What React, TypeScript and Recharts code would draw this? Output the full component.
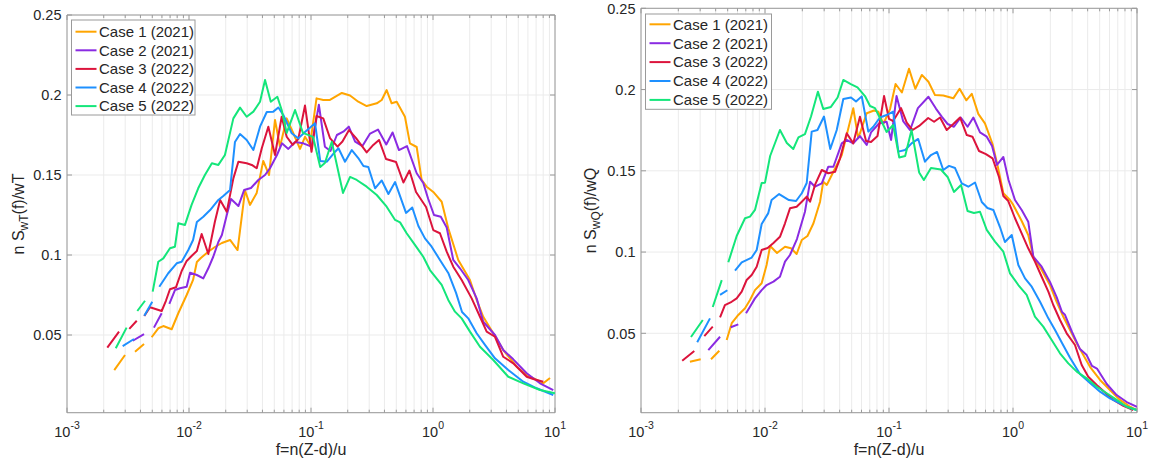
import React from "react";
import { LineChart, Line, XAxis, YAxis, CartesianGrid, ReferenceArea } from "recharts";

const FONT = "'Liberation Sans', Arial, Helvetica, sans-serif";
const INK = "#262626";
const AXIS = "#9a9a9a";
const GRID = "#ebebeb";

const caseNames = ["Case 1 (2021)", "Case 2 (2021)", "Case 3 (2022)", "Case 4 (2022)", "Case 5 (2022)"];
const caseColors = ["#ffa500", "#8a2be2", "#dc143c", "#1e90ff", "#14e67a"];

const xTicks = [
  0.001, 0.002, 0.003, 0.004, 0.005, 0.006, 0.007, 0.008, 0.009,
  0.01, 0.02, 0.03, 0.04, 0.05, 0.06, 0.07, 0.08, 0.09,
  0.1, 0.2, 0.3, 0.4, 0.5, 0.6, 0.7, 0.8, 0.9,
  1, 2, 3, 4, 5, 6, 7, 8, 9, 10,
];
const xMajor = [0.001, 0.01, 0.1, 1, 10];
const xMajorExp = ["-3", "-2", "-1", "0", "1"];
const yTicks = [0.05, 0.1, 0.15, 0.2, 0.25];

type Pt = [number, number | null];

// nS_wT(f)/wT  (left panel)
const case1T: Pt[] = [
  [0.00244, 0.0281], [0.00299, 0.0375], [0.0033, null], [0.00361, 0.0396], [0.00428, 0.0444], [0.0046, null],
  [0.00494, 0.0486], [0.0056, 0.0542], [0.00616, 0.0556], [0.00721, 0.0536], [0.00817, 0.0636], [0.00957, 0.075],
  [0.0108, 0.0844], [0.0116, 0.0956], [0.0125, 0.0981], [0.0143, 0.1019], [0.0163, 0.105], [0.0186, 0.1075],
  [0.0217, 0.1094], [0.025, 0.1031], [0.0288, 0.1403], [0.0316, 0.1313], [0.0359, 0.1388], [0.0406, 0.1588],
  [0.0453, 0.15], [0.0507, 0.1844], [0.0557, 0.1677], [0.0632, 0.1854], [0.0716, 0.1761], [0.0813, 0.1663],
  [0.0893, 0.1739], [0.0982, 0.1688], [0.111, 0.1979], [0.126, 0.1969], [0.143, 0.1969], [0.179, 0.2013],
  [0.209, 0.1997], [0.244, 0.1958], [0.286, 0.1931], [0.346, 0.1948], [0.38, 0.1969], [0.417, 0.2031],
  [0.458, 0.1948], [0.504, 0.1958], [0.589, 0.1864], [0.647, 0.1698], [0.735, 0.1675], [0.807, 0.1469],
  [0.887, 0.1427], [1.005, 0.1394], [1.178, 0.1333], [1.334, 0.1167], [1.611, 0.0969], [2.009, 0.0844],
  [2.28, 0.0719], [2.582, 0.0614], [3.119, 0.0511], [3.767, 0.0406], [4.853, 0.0302], [5.861, 0.025],
  [7.079, 0.0219], [8.017, 0.0198], [9.1, 0.0231],
];
const case2T: Pt[] = [
  [0.00346, 0.0464], [0.00428, 0.0506], [0.0047, null], [0.00516, 0.0546], [0.00597, 0.0636], [0.0064, null],
  [0.0069, 0.0694], [0.00767, 0.0781], [0.00843, 0.0792], [0.00957, 0.0802], [0.0102, 0.0889], [0.0116, 0.0875],
  [0.0131, 0.0854], [0.0144, 0.0917], [0.0158, 0.0989], [0.0174, 0.1081], [0.0186, 0.1125], [0.0204, 0.125],
  [0.0221, 0.135], [0.0254, 0.1306], [0.0283, 0.1406], [0.0322, 0.1419], [0.037, 0.1469], [0.042, 0.15],
  [0.0461, 0.1542], [0.0526, 0.1625], [0.0578, 0.1698], [0.0652, 0.1663], [0.074, 0.1706], [0.0865, 0.1698],
  [0.101, 0.1677], [0.116, 0.1939], [0.13, 0.1677], [0.1445, 0.165], [0.163, 0.175], [0.184, 0.1771],
  [0.204, 0.1802], [0.23, 0.1708], [0.264, 0.1681], [0.305, 0.1759], [0.354, 0.1784], [0.414, 0.1691],
  [0.466, 0.1766], [0.526, 0.1656], [0.612, 0.1681], [0.735, 0.1511], [0.832, 0.145], [0.914, 0.135],
  [1.019, 0.125], [1.159, 0.1239], [1.295, 0.1172], [1.466, 0.0969], [1.663, 0.0917], [1.945, 0.0844],
  [2.28, 0.0729], [2.582, 0.0583], [3.221, 0.05], [3.767, 0.0406], [4.55, 0.0348], [5.861, 0.0261],
  [7.534, 0.0198], [9.68, 0.0156],
];
const case3T: Pt[] = [
  [0.00214, 0.0421], [0.00267, 0.0521], [0.0029, null], [0.00324, 0.0538], [0.00373, 0.0589], [0.004, null],
  [0.0043, 0.0619], [0.00479, 0.0673], [0.00516, 0.0666], [0.00597, 0.065], [0.00647, 0.0714], [0.00698, 0.0786],
  [0.00782, 0.0798], [0.00871, 0.09], [0.00957, 0.0963], [0.0105, 0.0994], [0.0116, 0.1025], [0.0127, 0.1131],
  [0.0144, 0.1006], [0.0163, 0.1208], [0.018, 0.1344], [0.0204, 0.1271], [0.0231, 0.1479], [0.0254, 0.1583],
  [0.0297, 0.1573], [0.0327, 0.1563], [0.0359, 0.1542], [0.0395, 0.1667], [0.0447, 0.1802], [0.0507, 0.1625],
  [0.0575, 0.1864], [0.0632, 0.1739], [0.0708, 0.1688], [0.0787, 0.1725], [0.0893, 0.1934], [0.101, 0.1645],
  [0.111, 0.1869], [0.126, 0.1854], [0.143, 0.1731], [0.165, 0.1677], [0.181, 0.1709], [0.205, 0.1781],
  [0.234, 0.1731], [0.286, 0.1641], [0.324, 0.1688], [0.361, 0.1719], [0.412, 0.16], [0.498, 0.1581],
  [0.572, 0.1453], [0.641, 0.1528], [0.726, 0.1394], [0.877, 0.13], [1.005, 0.1156], [1.14, 0.1136],
  [1.295, 0.1021], [1.466, 0.0927], [1.718, 0.0844], [2.075, 0.0729], [2.427, 0.0614], [2.754, 0.0521],
  [3.221, 0.0489], [3.767, 0.0364], [4.55, 0.0323], [5.861, 0.0239], [6.637, 0.0225], [8.017, 0.0208],
];
const case4T: Pt[] = [
  [0.00286, 0.0431], [0.00354, 0.0475], [0.0039, null], [0.0043, 0.0621], [0.005, 0.0708], [0.0053, null],
  [0.00571, 0.0802], [0.00676, 0.0886], [0.00793, 0.0948], [0.00871, 0.0958], [0.00987, 0.1031], [0.0108, 0.1094],
  [0.0116, 0.1206], [0.0131, 0.1239], [0.0149, 0.1281], [0.0174, 0.1344], [0.0191, 0.1369], [0.0217, 0.1406],
  [0.0238, 0.1706], [0.0262, 0.1756], [0.0297, 0.1719], [0.0337, 0.1656], [0.0382, 0.1802], [0.0434, 0.1894],
  [0.0491, 0.1896], [0.054, 0.1922], [0.0593, 0.1875], [0.0695, 0.1761], [0.0787, 0.1729], [0.0893, 0.1769],
  [0.108, 0.1823], [0.119, 0.1588], [0.135, 0.1583], [0.157, 0.1644], [0.168, 0.1667], [0.19, 0.1583],
  [0.216, 0.1656], [0.244, 0.1606], [0.269, 0.1556], [0.295, 0.155], [0.335, 0.1417], [0.38, 0.1466],
  [0.431, 0.1381], [0.489, 0.1456], [0.601, 0.1263], [0.676, 0.1297], [0.759, 0.1181], [0.859, 0.1104],
  [0.975, 0.1052], [1.14, 0.0969], [1.334, 0.0888], [1.545, 0.0763], [1.73, 0.0644], [1.945, 0.0604],
  [2.28, 0.0511], [2.667, 0.0438], [3.221, 0.0354], [4.14, 0.0281], [5.495, 0.0208], [7.079, 0.0167],
  [9.68, 0.0125],
];
const case5T: Pt[] = [
  [0.00251, 0.0417], [0.00308, 0.0546], [0.0034, null], [0.00377, 0.065], [0.00436, 0.0714], [0.0047, null],
  [0.00504, 0.0771], [0.0056, 0.0958], [0.00616, 0.0979], [0.00698, 0.1042], [0.00767, 0.1052], [0.00817, 0.1198],
  [0.00927, 0.1188], [0.0105, 0.1313], [0.0119, 0.1417], [0.0135, 0.15], [0.0154, 0.1573], [0.0174, 0.1563],
  [0.0197, 0.1625], [0.0231, 0.1854], [0.0262, 0.1921], [0.0297, 0.1864], [0.0337, 0.1896], [0.0382, 0.1958],
  [0.042, 0.2094], [0.0468, 0.1958], [0.053, 0.1989], [0.0575, 0.1906], [0.0632, 0.1763], [0.074, 0.1906],
  [0.0859, 0.1763], [0.104, 0.1738], [0.119, 0.155], [0.13, 0.1575], [0.148, 0.1708], [0.183, 0.1388],
  [0.209, 0.1488], [0.237, 0.1469], [0.286, 0.1427], [0.346, 0.1375], [0.417, 0.1302], [0.489, 0.1219],
  [0.537, 0.1204], [0.608, 0.1136], [0.711, 0.1063], [0.832, 0.0989], [0.944, 0.0906], [1.178, 0.0813],
  [1.334, 0.0719], [1.514, 0.0646], [1.718, 0.0604], [2.009, 0.0521], [2.427, 0.0427], [3.119, 0.0344],
  [4.14, 0.0239], [5.495, 0.0198], [7.534, 0.0156], [10, 0.0136],
];

// nS_wQ(f)/wQ  (right panel)
const case1Q: Pt[] = [
  [0.00248, 0.0325], [0.00303, 0.034], [0.0034, null], [0.00367, 0.034], [0.00428, 0.0393], [0.0046, null],
  [0.00491, 0.0459], [0.00539, 0.0562], [0.00609, 0.0613], [0.0069, 0.0654], [0.00757, 0.0705], [0.0083, 0.0766],
  [0.0094, 0.0808], [0.0103, 0.092], [0.011, 0.1037], [0.0125, 0.0994], [0.0145, 0.1033], [0.0162, 0.1023],
  [0.018, 0.0988], [0.0198, 0.1074], [0.022, 0.1099], [0.0246, 0.1177], [0.0278, 0.131], [0.0295, 0.1433],
  [0.0315, 0.1413], [0.0356, 0.1494], [0.0416, 0.1597], [0.0456, 0.172], [0.0515, 0.1885], [0.0565, 0.17],
  [0.0661, 0.1854], [0.0757, 0.1871], [0.082, 0.1864], [0.09, 0.1788], [0.102, 0.188], [0.113, 0.2034],
  [0.127, 0.1982], [0.145, 0.2128], [0.163, 0.2005], [0.184, 0.209], [0.208, 0.2048], [0.235, 0.1966],
  [0.274, 0.1963], [0.33, 0.1946], [0.371, 0.2005], [0.42, 0.1934], [0.465, 0.1974], [0.525, 0.185],
  [0.594, 0.1792], [0.684, 0.1665], [0.757, 0.152], [0.836, 0.1362], [0.946, 0.132], [1.005, 0.129],
  [1.175, 0.1191], [1.327, 0.1105], [1.459, 0.0971], [1.703, 0.089], [1.986, 0.0797], [2.249, 0.0694],
  [2.547, 0.0602], [2.884, 0.052], [3.266, 0.0438], [3.69, 0.0366], [4.178, 0.0294], [5.035, 0.0213],
  [6.053, 0.0151], [7.295, 0.009], [8.79, 0.0048], [10, 0.0028],
];
const case2Q: Pt[] = [
  [0.00349, 0.0397], [0.00434, 0.0479], [0.0048, null], [0.00529, 0.0537], [0.00609, 0.0555], [0.0065, null],
  [0.00703, 0.0623], [0.00757, 0.0664], [0.0083, 0.0715], [0.0094, 0.0766], [0.0103, 0.0797], [0.0117, 0.0818],
  [0.0132, 0.0848], [0.0145, 0.0941], [0.0159, 0.0982], [0.0181, 0.108], [0.021, 0.1248], [0.0231, 0.1433],
  [0.0253, 0.1402], [0.0287, 0.1423], [0.0324, 0.1525], [0.0356, 0.1525], [0.0416, 0.1669], [0.0456, 0.169],
  [0.0515, 0.1669], [0.0583, 0.1714], [0.0661, 0.1659], [0.0716, 0.1736], [0.083, 0.1791], [0.0957, 0.1802],
  [0.104, 0.169], [0.115, 0.196], [0.13, 0.1806], [0.148, 0.1751], [0.171, 0.1886], [0.208, 0.1956],
  [0.239, 0.1883], [0.266, 0.1833], [0.297, 0.1788], [0.334, 0.1771], [0.379, 0.1828], [0.43, 0.1771],
  [0.479, 0.1828], [0.542, 0.1736], [0.614, 0.171], [0.678, 0.1653], [0.743, 0.1536], [0.836, 0.1585],
  [0.92, 0.1443], [1.038, 0.132], [1.175, 0.1259], [1.327, 0.1187], [1.459, 0.0971], [1.703, 0.091],
  [1.986, 0.0816], [2.249, 0.0723], [2.485, 0.0631], [2.625, 0.0614], [2.992, 0.0508], [3.468, 0.0403],
  [3.927, 0.0366], [4.335, 0.0299], [4.753, 0.0283], [5.702, 0.0188], [6.855, 0.012], [8.26, 0.0077],
  [10, 0.0048],
];
const case3Q: Pt[] = [
  [0.00215, 0.0331], [0.00269, 0.0391], [0.0029, null], [0.00324, 0.0483], [0.00379, 0.0541], [0.004, null],
  [0.00434, 0.0598], [0.00475, 0.0674], [0.00538, 0.0694], [0.00591, 0.0715], [0.00649, 0.0756], [0.00711, 0.0828],
  [0.00781, 0.0859], [0.00857, 0.091], [0.0094, 0.1013], [0.0105, 0.1025], [0.0117, 0.1056], [0.0132, 0.1094],
  [0.0145, 0.1177], [0.0159, 0.1269], [0.018, 0.1279], [0.0198, 0.131], [0.0217, 0.1341], [0.0231, 0.131],
  [0.0253, 0.1413], [0.0287, 0.1505], [0.0324, 0.1485], [0.0367, 0.1494], [0.0403, 0.1577], [0.0456, 0.1731],
  [0.0515, 0.1669], [0.0583, 0.1833], [0.0653, 0.1683], [0.0716, 0.1677], [0.0808, 0.1714], [0.0912, 0.196],
  [0.1, 0.1819], [0.108, 0.1806], [0.125, 0.1886], [0.139, 0.1797], [0.155, 0.1751], [0.175, 0.1776],
  [0.207, 0.1825], [0.231, 0.1802], [0.258, 0.1828], [0.292, 0.1751], [0.33, 0.1788], [0.374, 0.1828],
  [0.424, 0.172], [0.471, 0.171], [0.532, 0.1622], [0.605, 0.1603], [0.684, 0.1577], [0.771, 0.1462],
  [0.836, 0.1345], [0.916, 0.1314], [1.038, 0.1208], [1.175, 0.1115], [1.327, 0.1023], [1.503, 0.0941],
  [1.703, 0.0848], [1.928, 0.0756], [2.113, 0.0674], [2.393, 0.0582], [2.71, 0.05], [3.162, 0.0428],
  [3.581, 0.0305], [4.046, 0.0233], [4.732, 0.0182], [5.702, 0.0126], [6.442, 0.009], [7.762, 0.0053],
  [9.33, 0.0028],
];
const case4Q: Pt[] = [
  [0.00284, 0.0445], [0.0036, 0.0592], [0.0039, null], [0.00434, 0.0736], [0.00497, 0.0765], [0.0053, null],
  [0.00573, 0.0885], [0.00649, 0.0937], [0.00781, 0.0966], [0.00857, 0.1013], [0.0094, 0.1173], [0.0106, 0.1238],
  [0.0113, 0.132], [0.013, 0.1357], [0.0156, 0.132], [0.0178, 0.1314], [0.0198, 0.1362], [0.0217, 0.1425],
  [0.0238, 0.1741], [0.0265, 0.1751], [0.0299, 0.1834], [0.0336, 0.1634], [0.0379, 0.1751], [0.0428, 0.1942],
  [0.0494, 0.1951], [0.0542, 0.1926], [0.0603, 0.1958], [0.0681, 0.1741], [0.0747, 0.1771], [0.0845, 0.1828],
  [0.0957, 0.1843], [0.108, 0.1864], [0.119, 0.1618], [0.135, 0.1628], [0.152, 0.1669], [0.172, 0.1696],
  [0.195, 0.1556], [0.218, 0.1597], [0.244, 0.1616], [0.274, 0.1505], [0.305, 0.153], [0.341, 0.1517],
  [0.386, 0.1423], [0.436, 0.1402], [0.494, 0.1428], [0.56, 0.1308], [0.622, 0.1271], [0.694, 0.1259],
  [0.785, 0.1154], [0.861, 0.1062], [0.977, 0.1105], [1.104, 0.092], [1.25, 0.0838], [1.416, 0.0787],
  [1.652, 0.0694], [1.928, 0.0592], [2.183, 0.052], [2.485, 0.044], [2.884, 0.035], [3.468, 0.025],
  [4.178, 0.0194], [5.035, 0.0141], [6.053, 0.01], [7.295, 0.0069], [8.79, 0.004], [10, 0.0028],
];
const case5Q: Pt[] = [
  [0.00253, 0.0477], [0.00315, 0.0582], [0.0034, null], [0.00379, 0.0662], [0.00448, 0.0827], [0.0048, null],
  [0.00506, 0.0937], [0.00591, 0.1099], [0.0069, 0.1208], [0.00757, 0.1218], [0.0083, 0.1259], [0.0094, 0.1425],
  [0.01, 0.1427], [0.011, 0.1591], [0.0132, 0.1751], [0.015, 0.1671], [0.0169, 0.1634], [0.0186, 0.1706],
  [0.021, 0.1726], [0.0235, 0.1834], [0.0267, 0.1987], [0.0295, 0.188], [0.034, 0.1893], [0.0385, 0.1951],
  [0.0428, 0.2059], [0.0492, 0.2034], [0.0557, 0.2013], [0.064, 0.196], [0.0703, 0.1899], [0.0771, 0.1886],
  [0.0845, 0.1825], [0.0957, 0.1739], [0.108, 0.1782], [0.121, 0.1582], [0.135, 0.1591], [0.152, 0.1751],
  [0.175, 0.149], [0.191, 0.1443], [0.218, 0.1517], [0.262, 0.1508], [0.297, 0.1462], [0.334, 0.137],
  [0.381, 0.1413], [0.43, 0.1253], [0.484, 0.124], [0.542, 0.1248], [0.614, 0.1136], [0.716, 0.1064],
  [0.836, 0.1002], [0.946, 0.0869], [1.104, 0.0797], [1.289, 0.0736], [1.503, 0.0602], [1.754, 0.0541],
  [2.051, 0.0459], [2.393, 0.0377], [2.793, 0.0315], [3.266, 0.0264], [3.927, 0.0223], [4.732, 0.0171],
  [5.702, 0.0131], [6.855, 0.009], [8.26, 0.0048], [9.95, 0.0028],
];

const seriesT = [case1T, case2T, case3T, case4T, case5T];
const seriesQ = [case1Q, case2Q, case3Q, case4Q, case5Q];

const toPoints = (a: Pt[]) => a.map(([f, v]) => ({ f, v }));

function XTick(props: any) {
  const { x, y, payload, plotH } = props;
  const v = payload.value;
  const i = xMajor.findIndex((m) => Math.abs(m - v) < m * 1e-6);
  const len = i >= 0 ? 5 : 3;
  return (
    <g>
      <line x1={x} x2={x} y1={y} y2={y - len} stroke={AXIS} />
      <line x1={x} x2={x} y1={y - plotH} y2={y - plotH + len} stroke={AXIS} />
      {i >= 0 && (
        <text x={x} y={y + 24.5} textAnchor="middle" fontFamily={FONT} fontSize={14.5} fill={INK}>
          10
          <tspan dy={-8} fontSize={10.5}>
            {xMajorExp[i]}
          </tspan>
        </text>
      )}
    </g>
  );
}

function YTick(props: any) {
  const { x, y, payload, plotW } = props;
  return (
    <g>
      <line x1={x} x2={x + 5} y1={y} y2={y} stroke={AXIS} />
      <line x1={x + plotW} x2={x + plotW - 5} y1={y} y2={y} stroke={AXIS} />
      <text x={x - 5.5} y={y} dy="0.36em" textAnchor="end" fontFamily={FONT} fontSize={14.5} fill={INK}>
        {String(payload.value)}
      </text>
    </g>
  );
}

function Panel({
  left,
  width,
  top,
  right,
  axisW,
  yMin,
  series,
}: {
  left: number;
  width: number;
  top: number;
  right: number;
  axisW: number;
  yMin: number;
  series: Pt[][];
}) {
  const height = 464;
  const xAxisH = 51.3;
  const plotW = width - right - axisW;
  const plotH = height - top - xAxisH;
  return (
    <div style={{ position: "absolute", left, top: 0 }}>
      <LineChart width={width} height={height} margin={{ top, right, bottom: 0, left: 0 }}>
        <CartesianGrid stroke={GRID} strokeWidth={1} />
        <XAxis
          dataKey="f"
          type="number"
          scale="log"
          domain={[0.001, 10]}
          ticks={xTicks}
          interval={0}
          allowDataOverflow
          height={xAxisH}
          tickSize={0}
          tickMargin={0}
          tickLine={false}
          axisLine={false}
          tick={(p: any) => <XTick {...p} plotH={plotH} />}
        />
        <YAxis
          type="number"
          domain={[yMin, 0.25]}
          ticks={yTicks}
          interval={0}
          allowDataOverflow
          width={axisW}
          tickSize={0}
          tickMargin={0}
          tickLine={false}
          axisLine={false}
          tick={(p: any) => <YTick {...p} plotW={plotW} />}
        />
        <ReferenceArea
          x1={0.001}
          x2={10}
          y1={yMin}
          y2={0.25}
          ifOverflow="visible"
          fill="none"
          fillOpacity={0}
          stroke={AXIS}
          strokeWidth={1}
        />
        {series.map((s, i) => (
          <Line
            key={caseNames[i]}
            data={toPoints(s)}
            dataKey="v"
            type="linear"
            stroke={caseColors[i]}
            strokeWidth={2}
            strokeLinejoin="round"
            dot={false}
            activeDot={false}
            connectNulls={false}
            isAnimationActive={false}
          />
        ))}
      </LineChart>
    </div>
  );
}

function LegendBox({ x, y, w, h, row0, rowGap }: { x: number; y: number; w: number; h: number; row0: number; rowGap: number }) {
  return (
    <g>
      <rect x={x} y={y} width={w} height={h} fill="#ffffff" stroke={AXIS} strokeWidth={1} />
      {caseNames.map((name, i) => {
        const cy = row0 + rowGap * i;
        return (
          <g key={name}>
            <line x1={x + 4} x2={x + 25} y1={cy} y2={cy} stroke={caseColors[i]} strokeWidth={2} />
            <text x={x + 27.5} y={cy + 5.3} fontFamily={FONT} fontSize={15} fill={INK}>
              {name}
            </text>
          </g>
        );
      })}
    </g>
  );
}

export default function App() {
  return (
    <div style={{ position: "absolute", left: 0, top: 0, width: 1151, height: 464, background: "#fff" }}>
      <Panel left={0} width={576} top={15} right={21} axisW={67} yMin={0.00144} series={seriesT} />
      <Panel left={580} width={571} top={8.3} right={14} axisW={61} yMin={0.00114} series={seriesQ} />
      <svg
        width={1151}
        height={464}
        style={{ position: "absolute", left: 0, top: 0, pointerEvents: "none" }}
      >
        <LegendBox x={71.5} y={20} w={123.5} h={95} row0={31.7} rowGap={18.6} />
        <LegendBox x={645.5} y={14} w={126} h={95.3} row0={24.3} rowGap={18.9} />
        <text transform="translate(24,214) rotate(-90)" textAnchor="middle" fontFamily={FONT} fontSize={16} fill={INK}>
          n S<tspan dy={3.5} fontSize={12}>wT</tspan>
          <tspan dy={-3.5}>(f)/wT</tspan>
        </text>
        <text transform="translate(596,210.5) rotate(-90)" textAnchor="middle" fontFamily={FONT} fontSize={16} fill={INK}>
          n S<tspan dy={3.5} fontSize={12}>wQ</tspan>
          <tspan dy={-3.5}>(f)/wQ</tspan>
        </text>
        <text x={311} y={455} textAnchor="middle" fontFamily={FONT} fontSize={16} fill={INK}>
          f=n(Z-d)/u
        </text>
        <text x={889} y={455} textAnchor="middle" fontFamily={FONT} fontSize={16} fill={INK}>
          f=n(Z-d)/u
        </text>
      </svg>
    </div>
  );
}
